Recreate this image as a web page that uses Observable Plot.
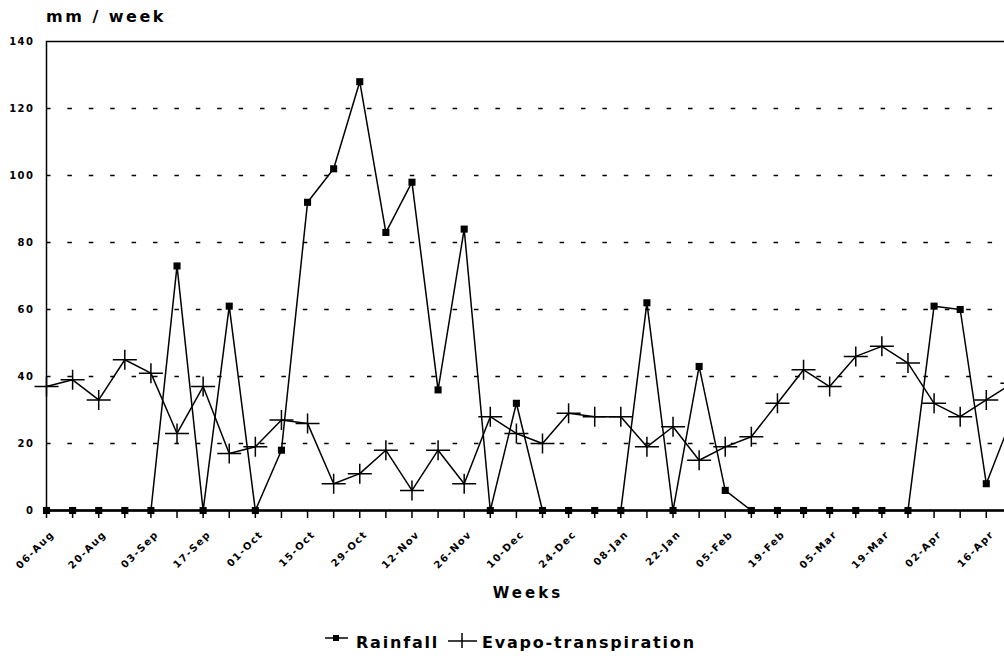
<!DOCTYPE html>
<html><head><meta charset="utf-8">
<script src="https://cdn.jsdelivr.net/npm/d3@7"></script>
<script src="https://cdn.jsdelivr.net/npm/@observablehq/plot@0.6"></script>
<style>
html,body{margin:0;padding:0;background:#fff;overflow:hidden;width:1004px;height:658px;}
#wrap{position:relative;width:1004px;height:658px;overflow:hidden;font-family:"DejaVu Sans",sans-serif;font-weight:bold;color:#000;}
#chart{position:absolute;left:0;top:0;width:1040px;}
#chart svg{max-width:none !important;width:1040px !important;height:570px !important;}
#chart svg text{letter-spacing:1.5px;}
.t{position:absolute;white-space:nowrap;line-height:1;}
#unit{left:46px;top:8.5px;font-size:16px;letter-spacing:2.5px;}
#xlabel{left:0;width:1056px;top:585.5px;text-align:center;font-size:15px;letter-spacing:3px;}
.leg{top:634.5px;font-size:16px;letter-spacing:1.8px;}
.legsym{position:absolute;}
</style></head>
<body>
<div id="wrap">
  <div id="chart"></div>
  <div class="t" id="unit">mm / week</div>
  <div class="t" id="xlabel">Weeks</div>
  <svg class="legsym" style="left:322px;top:630px" width="30" height="16"><line x1="3" y1="8" x2="26" y2="8" stroke="#000" stroke-width="1.5"/><rect x="11" y="5" width="6" height="6" fill="#000"/></svg>
  <div class="t leg" style="left:356px">Rainfall</div>
  <svg class="legsym" style="left:446px;top:630px" width="32" height="22"><line x1="2" y1="11" x2="31" y2="11" stroke="#000" stroke-width="1.5"/><line x1="16" y1="3" x2="16" y2="18" stroke="#000" stroke-width="1.5"/></svg>
  <div class="t leg" style="left:482px">Evapo-transpiration</div>
</div>
<script>
// Week tick labels (every second week)
const weekLabels = ["06-Aug","20-Aug","03-Sep","17-Sep","01-Oct","15-Oct","29-Oct","12-Nov","26-Nov","10-Dec","24-Dec","08-Jan","22-Jan","05-Feb","19-Feb","05-Mar","19-Mar","02-Apr","16-Apr"];
// Weekly rainfall, mm/week
const rainfall = [0,0,0,0,0,73,0,61,0,18,92,102,128,83,98,36,84,0,32,0,0,0,0,62,0,43,6,0,0,0,0,0,0,0,61,60,8,28];
// Weekly evapo-transpiration, mm/week
const evapo = [37,39,33,45,41,23,37,17,19,27,26,8,11,18,6,18,8,28,23,20,29,28,28,19,25,15,19,22,32,42,37,46,49,44,32,28,33,38];
const yTicks = [0,20,40,60,80,100,120,140];
const gridValues = [20,40,60,80,100,120];

const rows = rainfall.map((r, i) => ({week: i, rain: r, et: evapo[i]}));
const weekTicks = d3.range(0, rainfall.length);
const labelTicks = weekLabels.map((_, k) => k * 2);

const crossSymbol = {
  draw(ctx) {
    ctx.moveTo(-12, 0); ctx.lineTo(12, 0);
    ctx.moveTo(0, -10); ctx.lineTo(0, 10);
  }
};

const chart = Plot.plot({
  width: 1040,
  height: 570,
  marginLeft: 46,
  marginRight: 2,
  marginTop: 41,
  marginBottom: 60,
  x: {domain: [0, 38]},
  y: {domain: [0, 140]},
  style: {fontFamily: "DejaVu Sans", fontWeight: "bold", fontSize: "10px", color: "black", background: "white"},
  marks: [
    Plot.ruleY(gridValues, {strokeDasharray: "4.5,16.9", strokeWidth: 1.6}),
    Plot.axisY({ticks: yTicks, tickSize: 0, tickPadding: 12, label: null}),
    Plot.axisX({ticks: weekTicks, tickSize: 8, tickFormat: () => "", label: null, strokeWidth: 1.5}),
    Plot.axisX({ticks: labelTicks, tickSize: 0, tickPadding: 22, dx: 6, tickRotate: -45, tickFormat: i => weekLabels[i / 2], label: null}),
    Plot.frame({strokeWidth: 1.5}),
    Plot.ruleY([0], {strokeWidth: 2.5}),
    Plot.line(rows, {x: "week", y: "et", strokeWidth: 1.5}),
    Plot.line(rows, {x: "week", y: "rain", strokeWidth: 1.5}),
    Plot.dot(rows, {x: "week", y: "rain", symbol: "square", r: 4, fill: "black"}),
    Plot.dot(rows, {x: "week", y: "et", symbol: crossSymbol, r: 4, fill: "none", stroke: "black", strokeWidth: 1.5})
  ]
});
document.getElementById("chart").appendChild(chart);
</script>
</body></html>
